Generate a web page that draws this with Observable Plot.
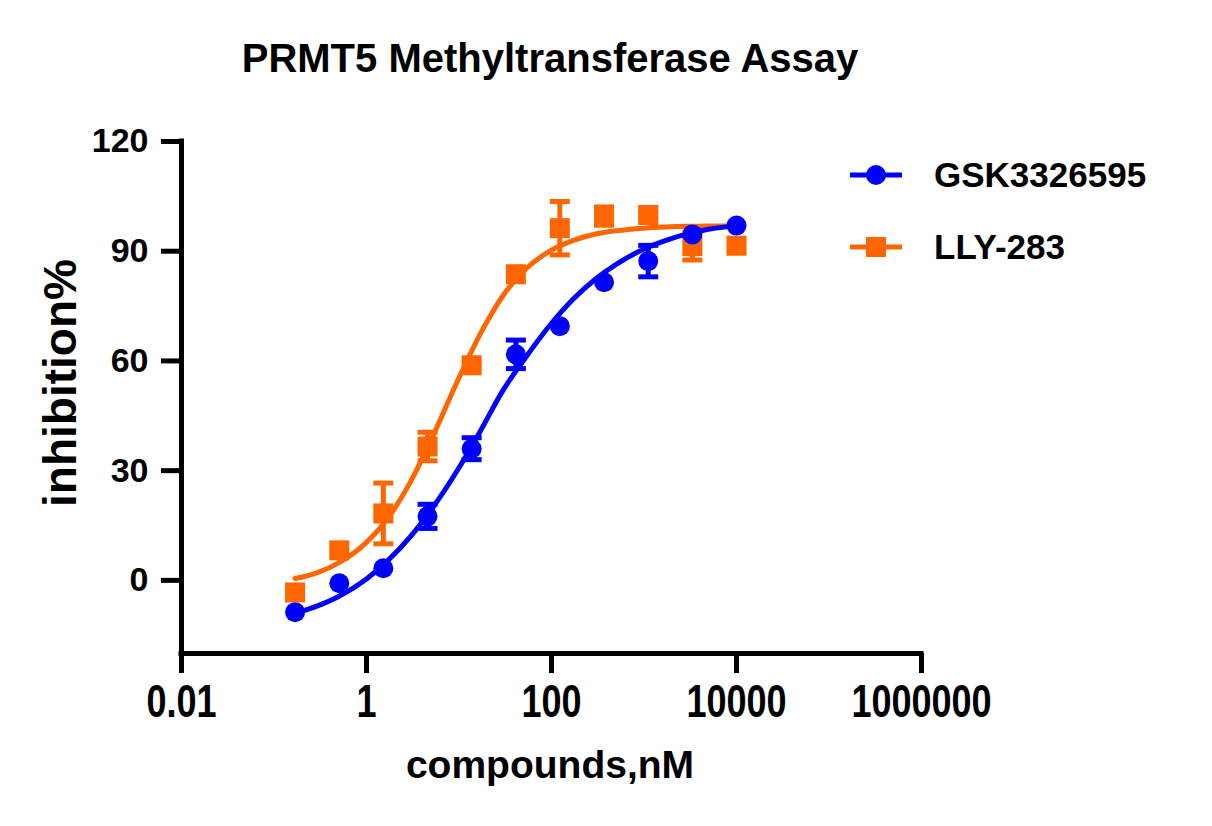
<!DOCTYPE html>
<html>
<head>
<meta charset="utf-8">
<script src="https://cdn.jsdelivr.net/npm/d3@7"></script>
<script src="https://cdn.jsdelivr.net/npm/@observablehq/plot@0.6"></script>
<style>
  html, body { margin: 0; padding: 0; background: #fff; }
  #wrap { position: relative; width: 1212px; height: 826px; overflow: hidden;
          font-family: "Liberation Sans", Arial, sans-serif; font-weight: bold; color: #000; }
  #chart { position: absolute; left: 0; top: 0; }
  .abs { position: absolute; white-space: nowrap; }
  #title { left: 0; width: 1100px; text-align: center; top: 38px; font-size: 40px; line-height: 40px; }
  #xlabel { left: 0; width: 1100px; text-align: center; top: 745px; font-size: 39px; line-height: 39px; }
  #ylabel { left: -140px; width: 400px; text-align: center; top: 360px; font-size: 46px; line-height: 46px;
            transform: rotate(-90deg); transform-origin: 50% 50%; }
  .leg { left: 848px; height: 40px; display: flex; align-items: center; font-size: 35px; line-height: 40px; }
  .leg svg { margin-right: 30px; }
</style>
</head>
<body>
<div id="wrap">
  <div id="chart"></div>
  <div id="title" class="abs">PRMT5 Methyltransferase Assay</div>
  <div id="xlabel" class="abs">compounds,nM</div>
  <div id="ylabel" class="abs">inhibition%</div>
  <div id="legend"></div>
</div>
<script>
// ---- data ----
const seriesNames = ["GSK3326595", "LLY-283"];
const seriesColors = ["#0000ff", "#ff6600"];

const conc = [0.169, 0.508, 1.52, 4.57, 13.7, 41.2, 123, 370, 1111, 3333, 10000];
const gskMean = [-8.7, -0.8, 3.3, 17.5, 36.0, 61.8, 69.5, 81.5, 87.3, 94.6, 97.0];
const gskSem  = [0, 0, 0, 3.3, 3.0, 3.9, 0, 0, 4.3, 0, 0];
const llyMean = [-3.3, 8.2, 18.3, 36.6, 58.8, 83.7, 96.3, 99.6, 99.9, 91.4, 91.5];
const llySem  = [0, 0, 8.3, 3.9, 0, 0, 7.3, 2.5, 1.0, 3.8, 0];

// fitted curves
const fitConc = [0.169, 0.3, 0.5, 1, 1.7, 3, 5, 10, 17, 30, 50, 100, 170, 300, 500, 1000, 1700, 3000, 5000, 10000];
const gskFit = [-9.0, -6.9, -4.4, 0.4, 5.4, 12.0, 19.3, 30.8, 40.8, 52.0, 60.2, 70.3, 76.8, 82.4, 86.4, 90.6, 92.9, 94.8, 96.0, 97.0];
const llyFit = [0.5, 2.2, 4.8, 10.4, 17.0, 27.0, 38.4, 55.4, 67.4, 77.9, 84.6, 90.3, 92.9, 94.7, 95.6, 96.3, 96.6, 96.8, 96.9, 96.9];

const xTicks = [0.01, 1, 100, 10000, 1000000];
const yTicks = [0, 30, 60, 90, 120];

// ---- tables built from the arrays ----
const pts = (means, sems, name) => conc.map((c, i) => ({x: c, y: means[i], e: sems[i], s: name}));
const gskPts = pts(gskMean, gskSem, seriesNames[0]);
const llyPts = pts(llyMean, llySem, seriesNames[1]);
const gskLine = fitConc.map((c, i) => ({x: c, y: gskFit[i]}));
const llyLine = fitConc.map((c, i) => ({x: c, y: llyFit[i]}));

const capSymbol = { draw(ctx) { ctx.moveTo(-10, 0); ctx.lineTo(10, 0); } };

function seriesMarks(points, line, color, symbol, r) {
  const withErr = points.filter(d => d.e > 0);
  return [
    Plot.line(line, {x: "x", y: "y", stroke: color, strokeWidth: 5, curve: "monotone-x"}),
    Plot.ruleX(withErr, {x: "x", y1: d => d.y - d.e, y2: d => d.y + d.e, stroke: color, strokeWidth: 5}),
    Plot.dot(withErr, {x: "x", y: d => d.y + d.e, symbol: capSymbol, stroke: color, strokeWidth: 5, fill: "none"}),
    Plot.dot(withErr, {x: "x", y: d => d.y - d.e, symbol: capSymbol, stroke: color, strokeWidth: 5, fill: "none"}),
    Plot.dot(points, {x: "x", y: "y", symbol, r, fill: color, stroke: "none"})
  ];
}

const chart = Plot.plot({
  width: 1212,
  height: 826,
  marginTop: 141,
  marginBottom: 173,
  marginLeft: 181,
  marginRight: 291,
  style: {fontFamily: "'Liberation Sans', Arial, sans-serif", fontWeight: "bold", color: "#000", background: "transparent", overflow: "visible"},
  x: {type: "log", domain: [0.01, 1000000]},
  y: {domain: [-20, 120]},
  marks: [
    Plot.axisX({ticks: xTicks, tickFormat: d => String(d), tickSize: 20, tickPadding: 14, fontSize: 36, strokeWidth: 5, label: null}),
    Plot.axisY({ticks: yTicks, tickFormat: d => String(d), tickSize: 20, tickPadding: 13, fontSize: 34, strokeWidth: 5, label: null}),
    Plot.ruleX([0.01], {strokeWidth: 5, strokeLinecap: "square"}),
    Plot.ruleY([-20], {strokeWidth: 5, strokeLinecap: "square"}),
    ...seriesMarks(llyPts, llyLine, seriesColors[1], "square", 11.3),
    ...seriesMarks(gskPts, gskLine, seriesColors[0], "circle", 10)
  ]
});
document.getElementById("chart").appendChild(chart);

// x tick labels in the reference are drawn taller: stretch each one about its own centre
chart.querySelectorAll('g[aria-label="x-axis tick label"] text').forEach(t => {
  const b = t.getBBox();
  const cy = b.y + b.height / 2;
  const prev = t.getAttribute("transform") || "";
  t.setAttribute("transform", `${prev} translate(0,${cy}) scale(1,1.28) translate(0,${-cy})`);
});

// ---- legend ----
const legend = document.getElementById("legend");
const legendTops = [155, 227];
seriesNames.forEach((name, i) => {
  const row = document.createElement("div");
  row.className = "abs leg";
  row.style.top = legendTops[i] + "px";
  const c = seriesColors[i];
  const marker = i === 0
    ? `<circle cx="28" cy="20" r="10" fill="${c}"/>`
    : `<rect x="18" y="10" width="20" height="20" fill="${c}"/>`;
  row.innerHTML = `<svg width="56" height="40"><line x1="2" x2="54" y1="20" y2="20" stroke="${c}" stroke-width="5"/>${marker}</svg><span>${name}</span>`;
  legend.appendChild(row);
});
</script>
</body>
</html>
